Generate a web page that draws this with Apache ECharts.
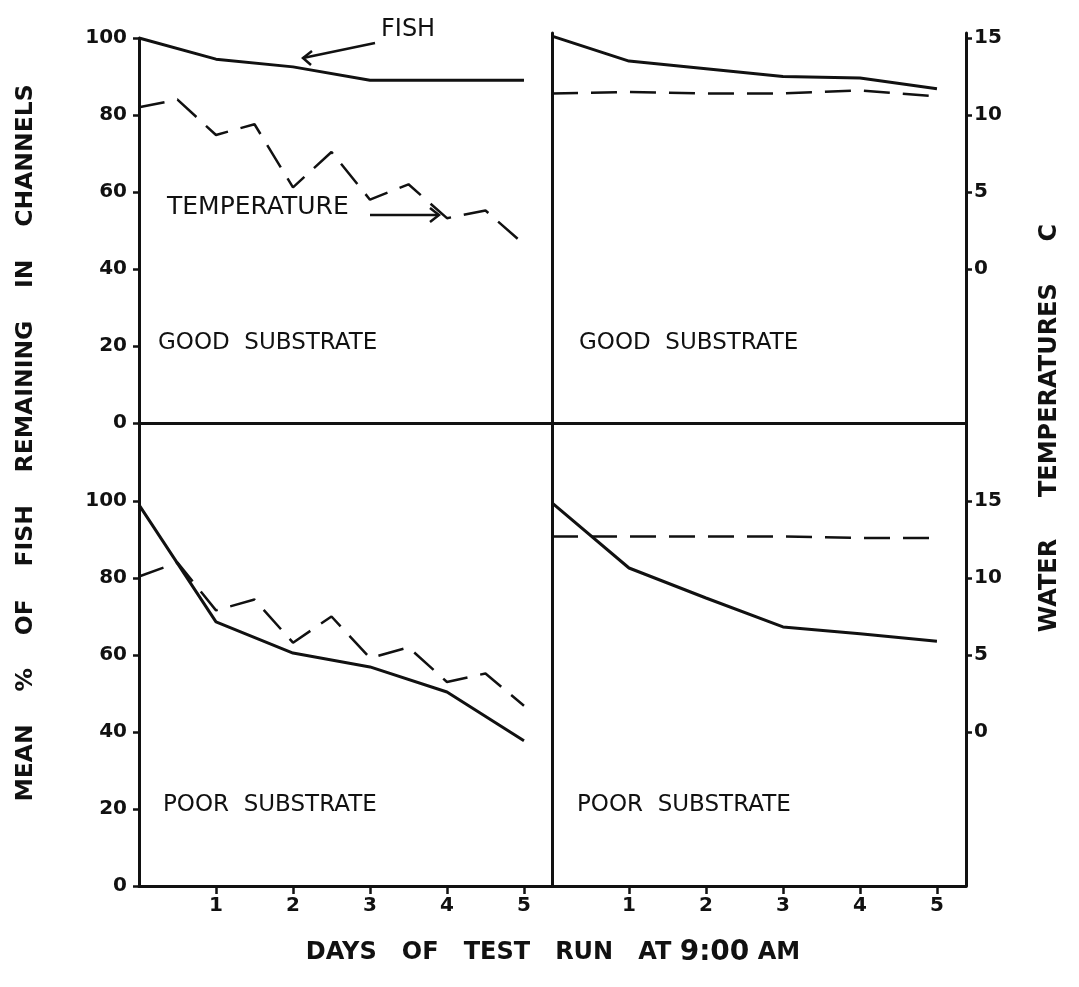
<!DOCTYPE html>
<html>
<head>
<meta charset="utf-8">
<script src="https://cdn.jsdelivr.net/npm/echarts@6/dist/echarts.min.js"></script>
<style>
  html, body { margin: 0; background: #fff; }
  #chart { width: 1079px; height: 987px; }
</style>
</head>
<body>
<div id="chart"></div>
<script>
// fish counted once a day, temperature read twice a day in the warm channels
var fishDays = [0, 1, 2, 3, 4, 5]
var tempDaysHalf = [0, 0.5, 1, 1.5, 2, 2.5, 3, 3.5, 4, 4.5, 5]
var tempDaysWhole = [0, 1, 2, 3, 4, 5]

var goodFishLeft = [100, 94.5, 92.5, 89, 89, 89]
var goodTempLeft = [10.5, 11.0, 8.7, 9.4, 5.3, 7.6, 4.5, 5.5, 3.3, 3.8, 1.6]
var goodFishRight = [100.5, 94, 92, 90, 89.6, 86.8]
var goodTempRight = [11.4, 11.5, 11.4, 11.4, 11.6, 11.2]

var poorFishLeft = [99, 68.6, 60.5, 56.9, 50.4, 37.7]
var poorTempLeft = [10.1, 11.0, 7.9, 8.6, 5.8, 7.5, 4.8, 5.5, 3.25, 3.8, 1.7]
var poorFishRight = [99.5, 82.6, 74.8, 67.3, 65.5, 63.6]
var poorTempRight = [12.7, 12.7, 12.7, 12.7, 12.6, 12.6]

var dayTicks = [1, 2, 3, 4, 5]
var pctTicks = [0, 20, 40, 60, 80, 100]
var tempTicks = [0, 5, 10, 15]

var FONT = 'DejaVu Sans'
var INK = '#111'

function pairs(xs, ys) {
  return xs.map(function (x, i) { return [x, ys[i]] })
}

function xAxis(grid, max, withTicks) {
  return {
    type: 'value', gridIndex: grid, min: 0, max: max,
    splitLine: { show: false },
    axisLine: { show: true, onZero: false, lineStyle: { color: INK, width: 3 } },
    axisTick: withTicks
      ? { show: true, customValues: dayTicks, length: 8, lineStyle: { color: INK, width: 2.5 } }
      : { show: false },
    axisLabel: withTicks
      ? { show: true, customValues: dayTicks, margin: 10, color: INK, fontFamily: FONT, fontSize: 20, fontWeight: 'bold' }
      : { show: false }
  }
}

// the printed numbers sit a little above their tick marks
function pctAxis(grid, max, withLabels) {
  return {
    type: 'value', gridIndex: grid, position: 'left', min: 0, max: max,
    splitLine: { show: false },
    axisLine: { show: true, onZero: false, lineStyle: { color: INK, width: 3 } },
    axisTick: withLabels
      ? { show: true, customValues: pctTicks, length: 6, lineStyle: { color: INK, width: 2.5 } }
      : { show: false },
    axisLabel: withLabels
      ? { show: true, customValues: pctTicks, margin: 12, color: INK, fontFamily: FONT, fontSize: 20,
          fontWeight: 'bold', verticalAlign: 'middle', padding: [0, 0, 11, 0] }
      : { show: false }
  }
}

function tempAxis(grid, max, visible) {
  return {
    type: 'value', gridIndex: grid, position: 'right', min: -10, max: max,
    show: visible,
    splitLine: { show: false },
    axisLine: { show: true, onZero: false, lineStyle: { color: INK, width: 3 } },
    axisTick: { show: true, customValues: tempTicks, length: 6, lineStyle: { color: INK, width: 2.5 } },
    axisLabel: { show: true, customValues: tempTicks, margin: 8, color: INK, fontFamily: FONT, fontSize: 20,
      fontWeight: 'bold', verticalAlign: 'middle', padding: [0, 0, 10, 0] }
  }
}

function fishLine(axisIdx, data) {
  return {
    type: 'line', xAxisIndex: axisIdx, yAxisIndex: axisIdx * 2,
    data: pairs(fishDays, data), symbol: 'none',
    lineStyle: { color: INK, width: 3 }
  }
}

function tempLine(axisIdx, days, data) {
  return {
    type: 'line', xAxisIndex: axisIdx, yAxisIndex: axisIdx * 2 + 1,
    data: pairs(days, data), symbol: 'none',
    lineStyle: { color: INK, width: 2.5, type: [26, 13] }
  }
}

function label(text, x, y, size, extra) {
  return {
    type: 'text', x: x, y: y, rotation: extra && extra.rotation || 0,
    style: Object.assign({
      text: text, fill: INK, font: (extra && extra.weight || 'normal') + ' ' + size + 'px "' + FONT + '"',
      align: 'left', verticalAlign: 'middle'
    }, extra && extra.style)
  }
}

var chart = echarts.init(document.getElementById('chart'))
chart.setOption({
  animation: false,
  backgroundColor: '#fff',
  grid: [
    { left: 139, top: 38, width: 413, height: 385, outerBoundsMode: 'none', containLabel: false },
    { left: 552, top: 33, width: 414, height: 390, outerBoundsMode: 'none', containLabel: false },
    { left: 139, top: 423, width: 413, height: 463, outerBoundsMode: 'none', containLabel: false },
    { left: 552, top: 423, width: 414, height: 463, outerBoundsMode: 'none', containLabel: false }
  ],
  xAxis: [
    xAxis(0, 5.364, false),
    xAxis(1, 5.377, false),
    xAxis(2, 5.364, true),
    xAxis(3, 5.377, true)
  ],
  yAxis: [
    pctAxis(0, 100, true), tempAxis(0, 15, false),
    pctAxis(1, 101.3, false), tempAxis(1, 15.325, true),
    pctAxis(2, 120.26, true), tempAxis(2, 20.065, false),
    pctAxis(3, 120.26, false), tempAxis(3, 20.065, true)
  ],
  series: [
    fishLine(0, goodFishLeft), tempLine(0, tempDaysHalf, goodTempLeft),
    fishLine(1, goodFishRight), tempLine(1, tempDaysWhole, goodTempRight),
    fishLine(2, poorFishLeft), tempLine(2, tempDaysHalf, poorTempLeft),
    fishLine(3, poorFishRight), tempLine(3, tempDaysWhole, poorTempRight)
  ],
  graphic: [
    label('GOOD  SUBSTRATE', 158, 343, 23),
    label('GOOD  SUBSTRATE', 579, 343, 23),
    label('POOR  SUBSTRATE', 163, 805, 23),
    label('POOR  SUBSTRATE', 577, 805, 23),
    label('FISH', 381, 30, 24),
    label('TEMPERATURE', 167, 207, 25),
    { type: 'polyline', shape: { points: [[375, 43], [303, 58]] }, style: { stroke: INK, lineWidth: 2.5, fill: null } },
    { type: 'polyline', shape: { points: [[312, 51], [303, 58], [311, 65]] }, style: { stroke: INK, lineWidth: 2.5, fill: null } },
    { type: 'polyline', shape: { points: [[370, 215], [439, 215]] }, style: { stroke: INK, lineWidth: 2.5, fill: null } },
    { type: 'polyline', shape: { points: [[430, 208], [439, 215], [430, 222]] }, style: { stroke: INK, lineWidth: 2.5, fill: null } },
    label('MEAN    %    OF    FISH    REMAINING    IN    CHANNELS', 26, 443, 23.5,
      { rotation: Math.PI / 2, weight: 'bold', style: { align: 'center' } }),
    label('WATER     TEMPERATURES     C', 1050, 428, 24,
      { rotation: Math.PI / 2, weight: 'bold', style: { align: 'center' } }),
    {
      type: 'text', x: 553, y: 953,
      style: {
        text: '{a|DAYS   OF   TEST   RUN   AT }{b|9:00}{a| AM}',
        align: 'center', verticalAlign: 'middle',
        rich: {
          a: { fontFamily: FONT, fontSize: 24, fontWeight: 'bold', fill: INK, color: INK },
          b: { fontFamily: FONT, fontSize: 28, fontWeight: 'bold', fill: INK, color: INK }
        }
      }
    }
  ]
})
</script>
</body>
</html>
